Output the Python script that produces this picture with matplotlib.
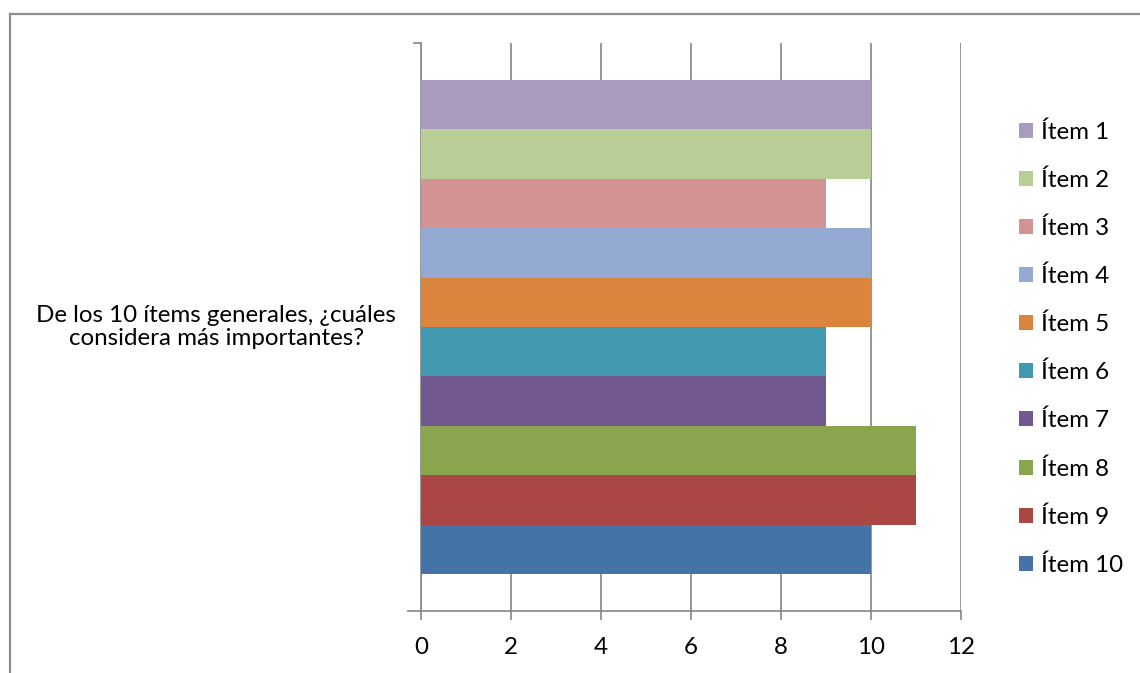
import matplotlib.pyplot as plt
from matplotlib.lines import Line2D

plt.rcParams['font.family'] = ['Lato', 'DejaVu Sans']

# Datos de la encuesta
pregunta = "De los 10 ítems generales, ¿cuáles\nconsidera más importantes?"
items = ["Ítem 1", "Ítem 2", "Ítem 3", "Ítem 4", "Ítem 5",
         "Ítem 6", "Ítem 7", "Ítem 8", "Ítem 9", "Ítem 10"]
valores = [10, 10, 9, 10, 10, 9, 9, 11, 11, 10]
colores = ["#A99BBD", "#B9CD96", "#D29392", "#95AAD2", "#DB843D",
           "#4198AF", "#71588F", "#89A54E", "#AA4643", "#4572A7"]
x_ticks = [0, 2, 4, 6, 8, 10, 12]

gris = "#868686"
fs = 17.4

fig = plt.figure(figsize=(11.4, 6.73), dpi=100)
ax = fig.add_axes([0.3693, 0.0921, 0.4737, 0.8440])

# barras agrupadas en una sola categoria, la primera arriba
n = len(items)
grupo = 0.87
alto = grupo / n
for i, (nombre, v, c) in enumerate(zip(items, valores, colores)):
    y = grupo / 2 - alto * (i + 0.5)
    ax.barh(y, v, height=alto, color=c, label=nombre, zorder=3)

ax.set_xlim(0, 12)
ax.set_ylim(-0.5, 0.5)
ax.set_xticks(x_ticks)
ax.grid(axis="x", color=gris, linewidth=1.2, zorder=0)

# etiqueta de la categoria un poco por encima del centro
ax.set_yticks([0.006])
ax.set_yticklabels([pregunta], fontsize=fs, linespacing=1.13)
ax.tick_params(axis="y", which="major", length=0, pad=18)
for lab in ax.get_yticklabels():
    lab.set_multialignment("center")
ax.set_yticks([-0.5, 0.5], minor=True)
ax.tick_params(axis="y", which="minor", length=6, color=gris, width=1.2)
ax.yaxis.get_minor_ticks()[0].tick1line.set_markersize(10)

ax.tick_params(axis="x", length=6.5, color=gris, width=1.2, labelsize=fs, pad=12)

for s in ["top", "right"]:
    ax.spines[s].set_visible(False)
for s in ["left", "bottom"]:
    ax.spines[s].set_color(gris)
    ax.spines[s].set_linewidth(1.2)

ax.legend(loc="center left", bbox_to_anchor=(1019 / 1140, 0.482),
          bbox_transform=fig.transFigure, frameon=False, fontsize=fs,
          handlelength=0.58, handleheight=0.58, handletextpad=0.33,
          labelspacing=1.1, borderpad=0, borderaxespad=0)

# marco del grafico
fig.add_artist(Line2D([9.5 / 1140, 9.5 / 1140], [1 - 14 / 673, 0],
                      transform=fig.transFigure, color="#8c8c8c", linewidth=1.6))
fig.add_artist(Line2D([9.5 / 1140, 1], [1 - 14 / 673, 1 - 14 / 673],
                      transform=fig.transFigure, color="#8c8c8c", linewidth=1.6))

fig.savefig("out.png", dpi=100)
